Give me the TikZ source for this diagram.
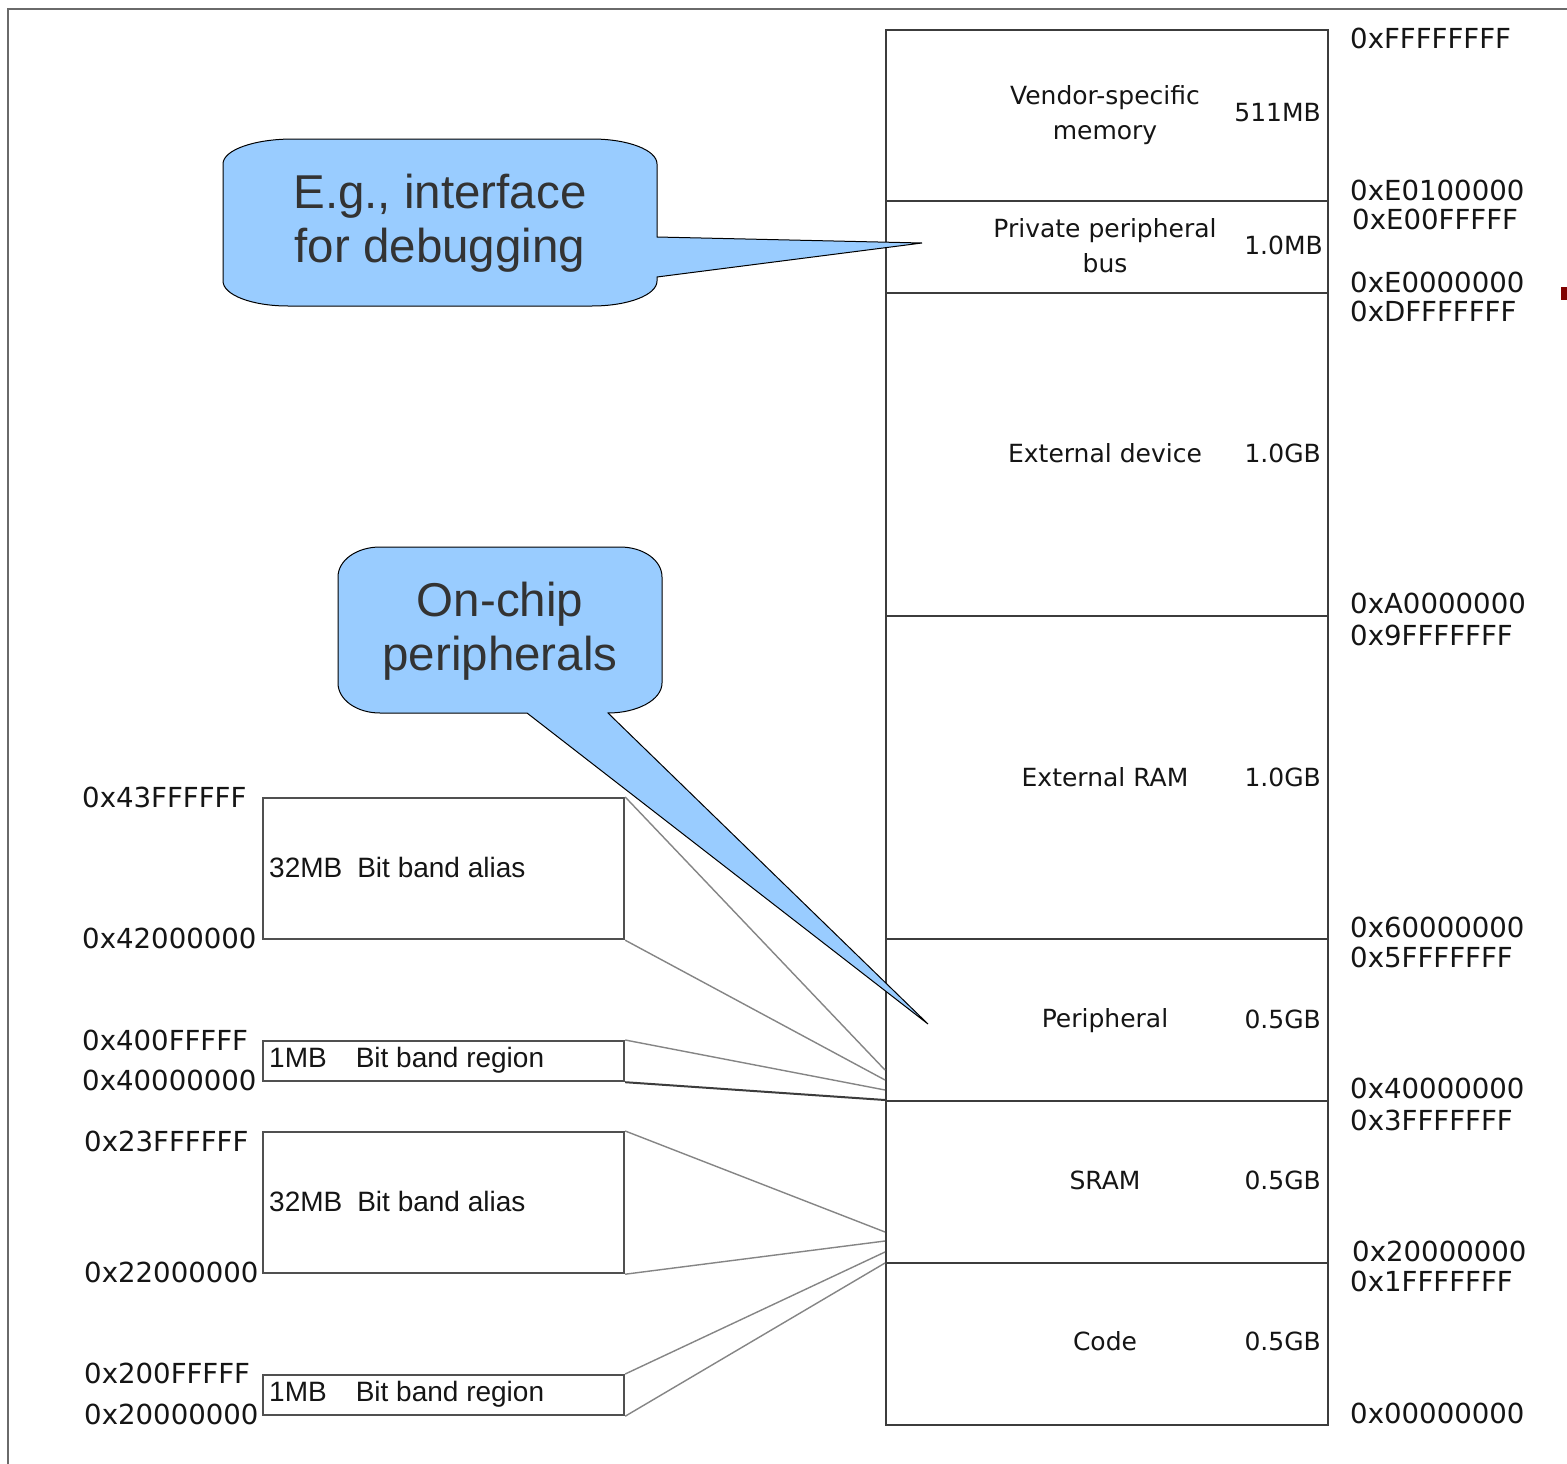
\documentclass[tikz,border=0pt]{standalone}
\usepackage{fontspec}
\setmainfont{Liberation Sans}
\newfontfamily\dejavu{DejaVu Sans}
\newcommand\hexfnt{\dejavu\fontsize{27.6}{32}\selectfont}
\newcommand\regfnt{\dejavu\fontsize{25}{35}\selectfont}
\newcommand\bbfnt{\fontsize{28}{32}\selectfont}
\newcommand\callfnt{\fontsize{47.5}{54}\selectfont}
\definecolor{mapline}{HTML}{3C3C3C}
\definecolor{boxline}{HTML}{505050}
\definecolor{connc}{HTML}{858585}
\definecolor{framec}{HTML}{6A6A6A}
\definecolor{txt}{HTML}{151515}
\definecolor{calltxt}{HTML}{333333}
\definecolor{calloutblue}{HTML}{99CCFF}
\definecolor{markred}{HTML}{800000}
\begin{document}
\begin{tikzpicture}[x=1pt,y=-1pt,
  region/.style={draw=mapline, line width=2.2pt, inner sep=0, minimum width=442pt, anchor=north west},
  bitbox/.style={draw=boxline, line width=2.2pt, inner sep=0, minimum width=361pt, anchor=north west},
  hexlbl/.style={font=\hexfnt, anchor=west, inner sep=0, text=txt},
  reglbl/.style={font=\regfnt, inner sep=0, text=txt, align=center},
  sizelbl/.style={font=\regfnt, inner sep=0, text=txt, anchor=east},
  bblbl/.style={font=\bbfnt, inner sep=0, text=txt, anchor=west},
  conn/.style={draw=connc, line width=1.4pt},
  callout/.style={fill=calloutblue, draw=black, line width=1pt},
  calltext/.style={font=\callfnt, text=calltxt, align=center, inner sep=0}]
\useasboundingbox (0,0) rectangle (1567,1464);
\fill[white] (0,0) rectangle (1567,1464);

% frame
\coordinate (fbl) at (8,1464);
\coordinate (ftl) at (8,9);
\coordinate (ftr) at (1567,9);
\draw[framec, line width=2.5pt] (fbl) -- (ftl) -- (ftr);
\fill[markred] (1561,287) rectangle (1567,300);

% memory map regions
\node[region, minimum height=171pt] (vendor) at (885,29) {};
\node[region, minimum height=92pt]  (ppb)    at (885,200) {};
\node[region, minimum height=323pt] (extdev) at (885,292) {};
\node[region, minimum height=323pt] (extram) at (885,615) {};
\node[region, minimum height=162pt] (periph) at (885,938) {};
\node[region, minimum height=162pt] (sram)   at (885,1100) {};
\node[region, minimum height=162pt] (code)   at (885,1262) {};

\node[reglbl] (tvendor) at (1105,115) {Vendor-specific\\memory};
\node[sizelbl] (svendor) at (1321,113) {511MB};
\node[reglbl] (tppb) at (1105,246) {Private peripheral\\bus};
\node[sizelbl] (sppb) at (1323,245) {1.0MB};
\node[reglbl] (textdev) at (1105,453) {External device};
\node[sizelbl] (sextdev) at (1321,453) {1.0GB};
\node[reglbl] (textram) at (1105,777) {External RAM};
\node[sizelbl] (sextram) at (1321,777) {1.0GB};
\node[reglbl] (tperiph) at (1105,1021) {Peripheral};
\node[sizelbl] (speriph) at (1321,1019) {0.5GB};
\node[reglbl] (tsram) at (1105,1180) {SRAM};
\node[sizelbl] (ssram) at (1321,1180) {0.5GB};
\node[reglbl] (tcode) at (1105,1341) {Code};
\node[sizelbl] (scode) at (1321,1341) {0.5GB};

% right addresses
\node[hexlbl] (a1) at (1350,38) {0xFFFFFFFF};
\node[hexlbl] (a2) at (1350,190) {0xE0100000};
\node[hexlbl] (a3) at (1352,219) {0xE00FFFFF};
\node[hexlbl] (a4) at (1350,282) {0xE0000000};
\node[hexlbl] (a5) at (1350,311) {0xDFFFFFFF};
\node[hexlbl] (a6) at (1350,603) {0xA0000000};
\node[hexlbl] (a7) at (1350,635) {0x9FFFFFFF};
\node[hexlbl] (a8) at (1350,927) {0x60000000};
\node[hexlbl] (a9) at (1350,957) {0x5FFFFFFF};
\node[hexlbl] (a10) at (1350,1088) {0x40000000};
\node[hexlbl] (a11) at (1350,1120) {0x3FFFFFFF};
\node[hexlbl] (a12) at (1352,1251) {0x20000000};
\node[hexlbl] (a13) at (1350,1281) {0x1FFFFFFF};
\node[hexlbl] (a14) at (1350,1413) {0x00000000};

% bit band boxes
\node[bitbox, minimum height=141pt] (bbA) at (262,797) {};
\node[bitbox, minimum height=40pt]  (bbB) at (262,1040) {};
\node[bitbox, minimum height=141pt] (bbC) at (262,1131) {};
\node[bitbox, minimum height=40pt]  (bbD) at (262,1374) {};

\node[bblbl] (tA) at (269,867) {32MB\hspace{15pt}Bit band alias};
\node[bblbl] (tB) at (269,1060) {1MB\hspace{29pt}Bit band region};
\node[bblbl] (tC) at (269,1201) {32MB\hspace{15pt}Bit band alias};
\node[bblbl] (tD) at (269,1394) {1MB\hspace{29pt}Bit band region};

% left addresses
\node[hexlbl] (l1) at (82,797) {0x43FFFFFF};
\node[hexlbl] (l2) at (82,938) {0x42000000};
\node[hexlbl] (l3) at (82,1040) {0x400FFFFF};
\node[hexlbl] (l4) at (82,1080) {0x40000000};
\node[hexlbl] (l5) at (84,1141) {0x23FFFFFF};
\node[hexlbl] (l6) at (84,1272) {0x22000000};
\node[hexlbl] (l7) at (84,1373) {0x200FFFFF};
\node[hexlbl] (l8) at (84,1414) {0x20000000};

% connector end points on the memory map
\coordinate (pA1) at (885,1070);
\coordinate (pA2) at (885,1080);
\coordinate (pB1) at (885,1090);
\coordinate (pB2) at (885,1100);
\coordinate (pC1) at (885,1232);
\coordinate (pC2) at (885,1241);
\coordinate (pD1) at (885,1252);
\coordinate (pD2) at (885,1263);

\draw[conn] (bbA.north east) -- (pA1);
\draw[conn] (bbA.south east) -- (pA2);
\draw[conn] (bbB.north east) -- (pB1);
\draw[mapline, line width=2pt] (bbB.south east) -- (pB2);
\draw[conn] (bbC.north east) -- (pC1);
\draw[conn] (bbC.south east) -- (pC2);
\draw[conn] (bbD.north east) -- (pD1);
\draw[conn] (bbD.south east) -- (pD2);

% callout 1
\coordinate (tip1) at (922,243);
\draw[callout] (293,139) -- (592,139) .. controls (628,139) and (657,150) .. (657,164)
  -- (657,237) -- (tip1) -- (657,277) -- (657,281)
  .. controls (657,295) and (628,306) .. (592,306) -- (288,306)
  .. controls (252,306) and (223,295) .. (223,281) -- (223,164)
  .. controls (223,150) and (254,139) .. (293,139) -- cycle;
\node[calltext] (c1) at (440,223) {E.g., interface\\for debugging};

% callout 2
\coordinate (tip2) at (928,1024);
\draw[callout] (380,547) -- (620,547) .. controls (643,547) and (662,560) .. (662,577)
  -- (662,683) .. controls (662,700) and (637,713) .. (608,713)
  -- (tip2) -- (527,713) -- (380,713)
  .. controls (357,713) and (338,700) .. (338,683) -- (338,577)
  .. controls (338,560) and (357,547) .. (380,547) -- cycle;
\node[calltext] (c2) at (500,631) {On-chip\\peripherals};
\end{tikzpicture}
\end{document}
